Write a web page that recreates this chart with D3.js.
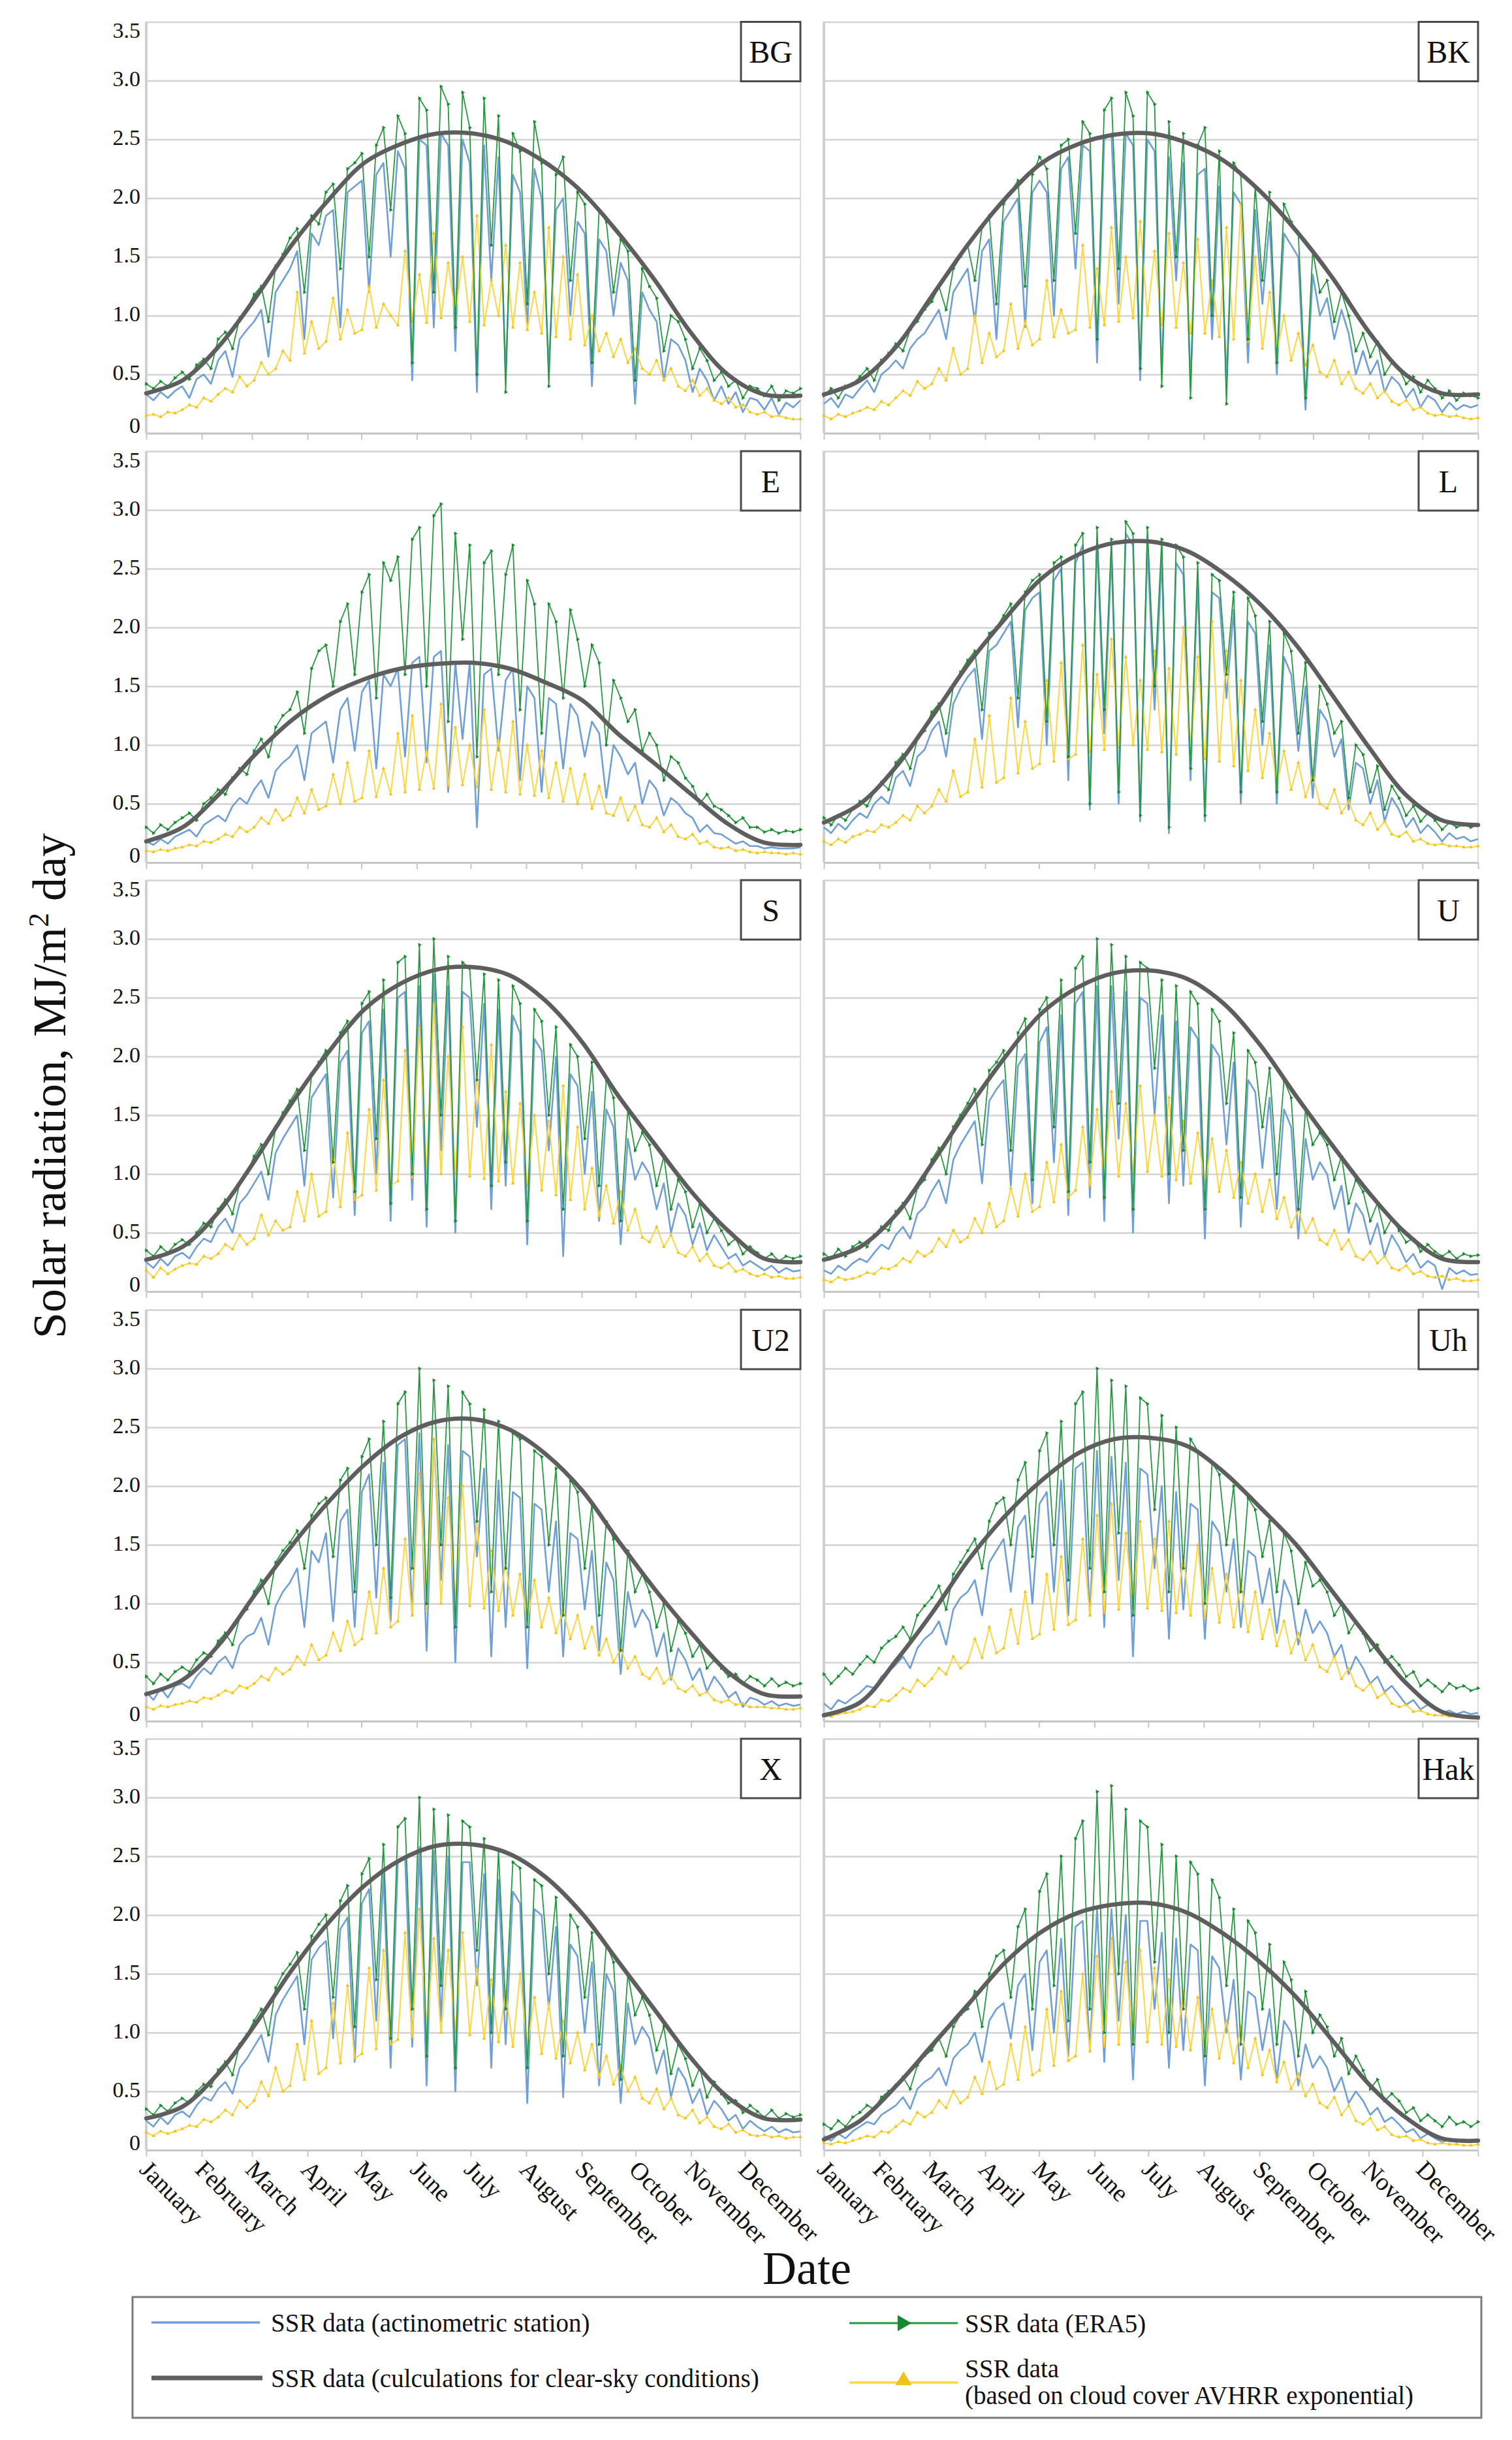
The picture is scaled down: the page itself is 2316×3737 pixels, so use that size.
<!DOCTYPE html>
<html>
<head>
<meta charset="utf-8">
<script src="https://d3js.org/d3.v7.min.js"></script>
<style>
body { margin: 0; background: #fff; }
text { font-family: "Liberation Serif", "Times New Roman", serif; fill: #111; }
</style>
</head>
<body>
<div class="chart"></div>
<script>

const months = ['January', 'February', 'March', 'April', 'May', 'June', 'July',
  'August', 'September', 'October', 'November', 'December'];
const monthStarts = [0, 31, 59, 90, 120, 151, 181, 212, 243, 273, 304, 334, 365];
const yTicks = [0, 0.5, 1.0, 1.5, 2.0, 2.5, 3.0, 3.5];
const stations = ['BG', 'BK', 'E', 'L', 'S', 'U', 'U2', 'Uh', 'X', 'Hak'];

// clear-sky curves, 19 points spread evenly over the year
const bgClear = [0.34,0.45,0.74,1.15,1.60,1.98,2.30,2.46,2.55,2.55,2.47,2.30,2.05,1.70,1.30,0.85,0.50,0.33,0.32];
const bkClear = [0.33,0.45,0.74,1.18,1.62,2.00,2.30,2.46,2.54,2.55,2.47,2.32,2.06,1.72,1.32,0.86,0.50,0.34,0.33];
const eClear = [0.18,0.30,0.58,0.92,1.21,1.42,1.56,1.65,1.69,1.70,1.65,1.53,1.38,1.09,0.84,0.58,0.33,0.17,0.15];
const lClear = [0.34,0.50,0.82,1.25,1.70,2.08,2.42,2.62,2.72,2.73,2.65,2.46,2.20,1.85,1.42,0.98,0.58,0.36,0.32];
const sClear = [0.27,0.38,0.68,1.12,1.60,2.03,2.40,2.62,2.74,2.76,2.69,2.47,2.12,1.66,1.25,0.85,0.52,0.28,0.25];
const uClear = [0.27,0.38,0.66,1.10,1.57,2.00,2.37,2.59,2.71,2.73,2.66,2.45,2.10,1.66,1.24,0.84,0.50,0.28,0.25];
const u2Clear = [0.23,0.35,0.65,1.08,1.49,1.86,2.18,2.42,2.55,2.57,2.48,2.27,1.96,1.53,1.12,0.75,0.42,0.23,0.21];
const uhClear = [0.05,0.16,0.52,0.93,1.38,1.75,2.05,2.28,2.40,2.41,2.34,2.12,1.82,1.50,1.10,0.70,0.33,0.08,0.03];
const xClear = [0.27,0.37,0.66,1.07,1.53,1.93,2.25,2.47,2.59,2.60,2.52,2.32,2.01,1.60,1.19,0.78,0.45,0.27,0.26];
const hakClear = [0.09,0.25,0.55,0.90,1.25,1.60,1.86,2.02,2.09,2.10,2.02,1.84,1.60,1.30,0.93,0.56,0.28,0.10,0.08];

// daily-ish series, 92 points over the year (about every 4 days)
// BG
const bgStation = [0.33,0.28,0.35,0.30,0.36, 0.40,0.30,0.46,0.50,0.42,
0.62,0.70,0.48,0.80,0.88, 0.95,1.05,0.65,1.20,1.30,
1.40,1.55,0.80,1.70,1.60, 1.85,1.90,0.90,2.05,2.10,
2.15,1.20,2.20,2.30,1.50, 2.40,2.25,0.45,2.50,2.45,
0.90,2.55,2.45,0.70,2.50, 2.30,0.35,2.45,1.30,2.35,
0.50,2.20,2.05,0.90,2.25, 2.00,0.55,1.90,2.00,1.00,
1.80,1.70,0.40,1.65,1.55, 1.00,1.45,1.30,0.25,1.20,
1.05,0.95,0.45,0.80,0.75, 0.62,0.35,0.55,0.45,0.28,
0.40,0.25,0.35,0.18,0.30, 0.28,0.20,0.30,0.16,0.26,
0.22,0.28];
const bgEra5 = [0.42,0.38,0.44,0.40,0.47, 0.52,0.46,0.58,0.63,0.55,
0.80,0.86,0.72,0.98,1.05, 1.18,1.25,0.95,1.42,1.52,
1.66,1.74,1.20,1.85,1.78, 2.05,2.12,1.40,2.25,2.30,
2.38,1.50,2.45,2.60,1.90, 2.70,2.55,0.60,2.85,2.75,
1.20,2.95,2.80,0.90,2.90, 2.60,0.50,2.85,1.60,2.70,
0.35,2.55,2.40,1.10,2.65, 2.30,0.40,2.20,2.35,1.30,
2.05,1.95,0.60,1.90,1.80, 1.20,1.65,1.55,0.45,1.40,
1.25,1.15,0.70,1.00,0.95, 0.80,0.55,0.72,0.62,0.45,
0.52,0.40,0.45,0.30,0.40, 0.38,0.32,0.40,0.28,0.36,
0.34,0.38];
const bgAvhrr = [0.15,0.16,0.14,0.18,0.17, 0.20,0.24,0.22,0.30,0.27,
0.33,0.38,0.35,0.48,0.40, 0.45,0.60,0.50,0.55,0.70,
0.62,1.20,0.68,0.95,0.72, 0.78,1.15,0.80,1.05,0.85,
0.88,1.25,0.90,1.10,1.00, 0.92,1.55,0.95,1.35,0.94,
1.70,0.98,1.45,1.00,1.50, 0.95,1.85,0.92,1.30,1.00,
1.60,0.90,1.45,0.88,1.20, 0.85,1.75,0.82,1.50,0.80,
1.35,0.75,1.00,0.70,0.85, 0.65,0.80,0.60,0.72,0.55,
0.50,0.62,0.45,0.55,0.40, 0.36,0.45,0.32,0.38,0.28,
0.25,0.30,0.22,0.24,0.18, 0.16,0.18,0.14,0.15,0.13,
0.12,0.12];

// BK
const bkStation = [0.25,0.30,0.22,0.33,0.30, 0.38,0.45,0.35,0.50,0.55,
0.62,0.55,0.72,0.80,0.85, 0.95,1.05,0.80,1.20,1.30,
1.40,0.95,1.55,1.65,0.80, 1.80,1.90,2.00,0.90,2.05,
2.15,2.05,1.00,2.25,2.35, 1.40,2.45,2.40,0.60,2.50,
2.55,1.10,2.55,2.45,0.45, 2.50,2.40,0.50,2.35,1.30,
2.30,0.40,2.20,2.25,0.80, 2.10,0.45,2.05,1.95,0.60,
1.90,1.10,1.80,0.50,1.70, 1.60,1.50,0.20,1.35,1.00,
1.15,0.80,1.05,0.85,0.50, 0.70,0.50,0.62,0.35,0.48,
0.42,0.30,0.38,0.22,0.32, 0.28,0.18,0.26,0.20,0.24,
0.22,0.24];
const bkEra5 = [0.32,0.38,0.30,0.40,0.42, 0.48,0.55,0.45,0.62,0.68,
0.76,0.70,0.88,0.95,1.05, 1.12,1.25,1.05,1.40,1.50,
1.60,1.30,1.75,1.85,1.10, 1.95,2.05,2.15,1.25,2.20,
2.35,2.25,1.30,2.45,2.50, 1.70,2.65,2.55,0.80,2.75,
2.85,1.40,2.90,2.70,0.55, 2.90,2.80,0.40,2.65,1.50,
2.55,0.30,2.45,2.60,1.00, 2.40,0.25,2.30,2.20,0.80,
2.10,1.30,2.05,0.60,1.95, 1.80,1.70,0.30,1.55,1.20,
1.30,0.95,1.20,1.00,0.70, 0.85,0.65,0.78,0.50,0.60,
0.55,0.42,0.48,0.35,0.45, 0.38,0.30,0.36,0.28,0.34,
0.32,0.30];
const bkAvhrr = [0.15,0.12,0.16,0.14,0.17, 0.19,0.22,0.20,0.27,0.24,
0.30,0.36,0.32,0.44,0.38, 0.42,0.55,0.45,0.72,0.50,
0.55,1.00,0.60,0.85,0.65, 0.70,1.10,0.72,0.95,0.75,
0.80,1.30,0.82,1.05,0.85, 0.88,1.60,0.90,1.40,0.92,
1.75,0.95,1.50,0.98,1.80, 1.00,1.55,0.92,1.70,0.90,
1.45,0.85,1.65,0.85,1.30, 0.82,1.75,0.80,1.95,0.78,
1.50,0.72,1.20,0.68,1.00, 0.62,0.85,0.58,0.75,0.52,
0.48,0.62,0.42,0.52,0.38, 0.34,0.42,0.30,0.36,0.27,
0.24,0.28,0.20,0.22,0.17, 0.15,0.16,0.14,0.15,0.13,
0.12,0.13];

// E
const eStation = [0.18,0.15,0.20,0.16,0.22, 0.25,0.28,0.22,0.32,0.36,
0.40,0.35,0.48,0.55,0.50, 0.62,0.70,0.55,0.78,0.85,
0.90,1.00,0.70,1.10,1.15, 1.20,0.85,1.30,1.40,0.95,
1.45,1.55,0.80,1.60,1.50, 1.65,0.90,1.70,1.75,0.85,
1.75,1.80,0.60,1.70,1.05, 1.70,0.30,1.60,1.65,0.95,
1.55,1.65,0.70,1.50,1.40, 0.60,1.40,1.35,0.80,1.35,
1.25,0.90,1.20,1.10,0.55, 1.00,0.90,0.75,0.85,0.50,
0.70,0.62,0.40,0.55,0.50, 0.42,0.38,0.26,0.32,0.25,
0.24,0.20,0.16,0.18,0.14, 0.14,0.12,0.13,0.12,0.12,
0.12,0.13];
const eEra5 = [0.30,0.25,0.32,0.28,0.34, 0.38,0.42,0.36,0.50,0.55,
0.62,0.58,0.72,0.80,0.75, 0.95,1.05,0.90,1.15,1.25,
1.30,1.45,1.10,1.65,1.80, 1.85,1.50,2.05,2.20,1.60,
2.30,2.45,1.40,2.55,2.40, 2.60,1.60,2.75,2.85,1.50,
2.95,3.05,1.20,2.80,1.90, 2.70,0.90,2.55,2.65,1.60,
2.45,2.70,1.30,2.40,2.20, 1.10,2.20,2.05,1.40,2.15,
1.90,1.50,1.85,1.70,1.00, 1.55,1.40,1.20,1.30,0.95,
1.10,1.00,0.70,0.90,0.85, 0.72,0.65,0.50,0.58,0.48,
0.45,0.40,0.34,0.38,0.30, 0.30,0.26,0.28,0.25,0.27,
0.26,0.28];
const eAvhrr = [0.10,0.09,0.11,0.10,0.12, 0.13,0.15,0.14,0.18,0.17,
0.20,0.24,0.22,0.30,0.26, 0.30,0.38,0.33,0.45,0.36,
0.40,0.55,0.42,0.62,0.45, 0.48,0.75,0.50,0.85,0.52,
0.55,0.95,0.56,0.80,0.58, 1.10,0.60,1.25,0.62,0.95,
0.63,1.35,0.65,1.15,0.66, 1.00,0.64,1.30,0.62,1.05,
0.60,1.20,0.58,1.00,0.57, 0.95,0.55,0.85,0.52,0.80,
0.50,0.75,0.46,0.65,0.42, 0.40,0.55,0.36,0.48,0.32,
0.30,0.38,0.26,0.32,0.22, 0.20,0.24,0.16,0.18,0.13,
0.12,0.13,0.10,0.11,0.09, 0.08,0.09,0.08,0.08,0.07,
0.08,0.07];

// L
const lStation = [0.30,0.25,0.33,0.28,0.36, 0.42,0.38,0.50,0.56,0.50,
0.72,0.78,0.65,0.90,0.96, 1.12,1.20,0.90,1.35,1.48,
1.58,1.65,1.05,1.80,1.85, 1.95,2.05,1.15,2.15,2.25,
2.30,1.00,2.40,2.50,0.70, 2.55,2.70,0.45,2.75,1.10,
2.65,0.50,2.80,2.70,0.35, 2.70,1.30,2.60,0.25,2.55,
2.45,0.70,2.40,0.35,2.30, 2.25,1.40,2.15,0.50,2.05,
1.95,1.00,1.85,0.50,1.75, 1.60,0.95,1.50,0.55,1.30,
1.20,0.90,1.05,0.45,0.85, 0.80,0.50,0.70,0.35,0.55,
0.45,0.30,0.38,0.25,0.32, 0.26,0.18,0.25,0.20,0.22,
0.18,0.20];
const lEra5 = [0.38,0.32,0.40,0.36,0.45, 0.52,0.48,0.60,0.68,0.62,
0.85,0.92,0.80,1.05,1.12, 1.28,1.35,1.10,1.50,1.62,
1.72,1.80,1.30,1.95,2.00, 2.10,2.20,1.40,2.30,2.40,
2.45,1.20,2.55,2.60,0.90, 2.70,2.80,0.50,2.85,1.30,
2.75,0.60,2.90,2.80,0.40, 2.85,1.50,2.75,0.30,2.70,
2.60,0.80,2.55,0.40,2.45, 2.40,1.60,2.30,0.60,2.25,
2.10,1.20,2.05,0.60,1.95, 1.80,1.10,1.70,0.70,1.50,
1.35,1.10,1.20,0.55,1.00, 0.92,0.60,0.82,0.45,0.65,
0.55,0.40,0.48,0.35,0.42, 0.36,0.28,0.34,0.30,0.32,
0.30,0.32];
const lAvhrr = [0.18,0.15,0.20,0.17,0.22, 0.24,0.27,0.26,0.32,0.30,
0.34,0.40,0.36,0.48,0.42, 0.48,0.62,0.52,0.78,0.56,
0.60,1.05,0.64,1.25,0.68, 0.72,1.40,0.76,1.20,0.80,
0.84,1.55,0.86,1.70,0.88, 0.92,1.85,0.94,1.60,0.96,
1.90,0.98,1.75,1.00,1.55, 0.96,1.80,0.94,1.65,0.92,
2.00,0.90,1.75,0.88,2.05, 0.86,1.80,0.82,1.55,0.78,
1.30,0.72,1.10,0.66,0.95, 0.62,0.85,0.56,0.75,0.50,
0.46,0.62,0.42,0.52,0.36, 0.32,0.42,0.28,0.35,0.24,
0.22,0.26,0.18,0.20,0.16, 0.15,0.16,0.14,0.14,0.13,
0.13,0.14];

// S
const sStation = [0.25,0.20,0.28,0.22,0.30, 0.33,0.28,0.38,0.45,0.42,
0.55,0.62,0.50,0.75,0.82, 0.92,1.02,0.78,1.18,1.30,
1.40,1.50,0.90,1.65,1.75, 1.85,0.80,1.95,2.05,0.65,
2.20,2.30,1.00,2.40,0.60, 2.50,2.55,0.78,2.60,0.55,
2.70,1.20,2.60,0.50,2.55, 2.50,1.40,2.45,0.70,2.40,
0.90,2.35,2.20,0.40,2.15, 2.05,1.20,2.00,0.30,1.85,
1.75,1.00,1.70,0.60,1.55, 1.40,0.40,1.30,0.95,1.10,
1.00,0.70,0.92,0.50,0.75, 0.65,0.40,0.58,0.35,0.48,
0.38,0.28,0.32,0.22,0.26, 0.22,0.18,0.22,0.16,0.20,
0.17,0.18];
const sEra5 = [0.35,0.30,0.38,0.33,0.40, 0.44,0.40,0.50,0.58,0.55,
0.70,0.78,0.66,0.92,1.00, 1.15,1.25,1.00,1.40,1.52,
1.62,1.72,1.20,1.85,1.95, 2.05,1.10,2.20,2.30,0.85,
2.45,2.55,1.30,2.65,0.75, 2.80,2.85,1.00,2.95,0.70,
3.00,1.50,2.85,0.60,2.80, 2.75,1.80,2.70,0.90,2.65,
1.10,2.60,2.45,0.60,2.40, 2.30,1.50,2.25,0.70,2.10,
2.00,1.30,1.95,0.90,1.80, 1.65,0.60,1.55,1.20,1.35,
1.25,0.90,1.15,0.70,0.95, 0.85,0.55,0.75,0.50,0.62,
0.52,0.40,0.45,0.32,0.38, 0.33,0.28,0.32,0.26,0.30,
0.28,0.30];
const sAvhrr = [0.18,0.12,0.20,0.15,0.19, 0.22,0.24,0.23,0.30,0.28,
0.32,0.40,0.36,0.48,0.40, 0.45,0.65,0.48,0.60,0.52,
0.55,0.85,0.60,1.00,0.64, 0.68,1.20,0.72,1.35,0.78,
0.82,1.55,0.86,1.80,0.90, 0.94,2.05,0.97,2.25,1.00,
2.45,1.00,2.00,1.00,2.25, 0.98,1.85,0.96,2.10,0.94,
1.70,0.92,1.60,0.90,1.50, 0.86,1.45,0.82,1.75,0.78,
1.40,0.70,1.05,0.64,0.90, 0.58,0.85,0.52,0.70,0.46,
0.42,0.55,0.38,0.48,0.33, 0.30,0.38,0.26,0.32,0.22,
0.20,0.24,0.17,0.19,0.15, 0.13,0.15,0.12,0.13,0.11,
0.11,0.12];

// U
const uStation = [0.18,0.15,0.22,0.18,0.24, 0.28,0.25,0.33,0.40,0.36,
0.48,0.55,0.45,0.66,0.72, 0.85,0.95,0.75,1.12,1.25,
1.35,1.45,0.92,1.62,1.72, 1.80,0.90,1.92,2.02,0.75,
2.12,2.25,1.10,2.35,0.65, 2.45,2.55,0.80,2.60,0.60,
2.60,1.30,2.55,0.50,2.50, 2.45,1.50,2.35,0.75,2.30,
0.90,2.25,2.15,0.45,2.10, 2.00,1.25,1.95,0.55,1.80,
1.70,1.05,1.65,0.70,1.55, 1.40,0.45,1.30,0.95,1.10,
1.00,0.70,0.90,0.50,0.75, 0.65,0.40,0.58,0.30,0.48,
0.38,0.25,0.32,0.20,0.26, 0.22,0.02,0.20,0.15,0.18,
0.14,0.15];
const uEra5 = [0.32,0.28,0.36,0.30,0.38, 0.42,0.38,0.48,0.55,0.52,
0.68,0.75,0.62,0.88,0.95, 1.12,1.22,1.00,1.40,1.50,
1.60,1.72,1.25,1.88,1.95, 2.05,1.20,2.20,2.32,0.95,
2.40,2.50,1.40,2.65,0.85, 2.75,2.85,1.10,3.00,0.80,
2.95,1.60,2.85,0.70,2.80, 2.75,1.90,2.65,1.00,2.60,
1.20,2.55,2.45,0.70,2.40, 2.30,1.60,2.20,0.80,2.05,
1.95,1.40,1.90,1.00,1.80, 1.65,0.70,1.55,1.25,1.35,
1.25,0.95,1.15,0.75,0.95, 0.85,0.60,0.75,0.50,0.62,
0.52,0.42,0.45,0.34,0.40, 0.34,0.30,0.34,0.28,0.32,
0.30,0.31];
const uAvhrr = [0.10,0.08,0.12,0.10,0.11, 0.13,0.16,0.15,0.20,0.19,
0.22,0.28,0.25,0.34,0.30, 0.34,0.45,0.38,0.52,0.42,
0.46,0.62,0.50,0.75,0.55, 0.60,0.88,0.64,1.00,0.68,
0.72,1.10,0.76,1.25,0.80, 0.86,1.40,0.90,1.55,0.95,
1.70,0.98,1.60,1.00,1.75, 1.02,1.50,0.98,1.65,0.95,
1.45,0.92,1.35,0.90,1.30, 0.85,1.20,0.80,1.10,0.75,
1.00,0.68,0.95,0.62,0.80, 0.55,0.70,0.50,0.62,0.44,
0.40,0.52,0.36,0.44,0.30, 0.27,0.34,0.24,0.30,0.20,
0.18,0.22,0.15,0.17,0.13, 0.12,0.13,0.10,0.11,0.09,
0.09,0.10];

// U2
const u2Station = [0.25,0.18,0.28,0.20,0.30, 0.32,0.28,0.38,0.45,0.40,
0.50,0.55,0.45,0.65,0.72, 0.75,0.88,0.65,0.98,1.10,
1.18,1.30,0.80,1.45,1.35, 1.60,0.85,1.70,1.80,0.80,
1.95,2.10,1.05,2.20,0.85, 2.35,2.40,0.90,2.45,0.60,
2.40,1.20,2.35,0.50,2.30, 2.25,1.40,2.15,0.55,2.05,
0.80,1.95,1.90,0.45,1.85, 1.80,1.10,1.70,0.55,1.60,
1.55,0.95,1.45,0.60,1.35, 1.20,0.40,1.10,0.80,0.95,
0.85,0.55,0.75,0.35,0.62, 0.52,0.35,0.45,0.25,0.38,
0.30,0.20,0.25,0.12,0.20, 0.18,0.14,0.17,0.13,0.15,
0.13,0.14];
const u2Era5 = [0.38,0.32,0.40,0.35,0.42, 0.46,0.42,0.52,0.58,0.55,
0.68,0.75,0.65,0.88,0.95, 1.10,1.20,1.00,1.35,1.45,
1.52,1.62,1.30,1.75,1.85, 1.90,1.40,2.05,2.15,1.10,
2.25,2.40,1.50,2.55,1.05, 2.70,2.80,1.30,3.00,1.00,
2.90,1.50,2.85,0.80,2.80, 2.70,1.70,2.65,1.10,2.55,
1.30,2.45,2.40,0.80,2.30, 2.25,1.50,2.15,0.90,2.05,
1.95,1.30,1.85,0.90,1.70, 1.55,0.60,1.45,1.10,1.25,
1.10,0.80,1.00,0.60,0.85, 0.75,0.55,0.65,0.45,0.52,
0.45,0.38,0.40,0.32,0.38, 0.35,0.30,0.36,0.30,0.33,
0.30,0.32];
const u2Avhrr = [0.12,0.10,0.13,0.12,0.14, 0.15,0.17,0.16,0.20,0.19,
0.22,0.26,0.24,0.30,0.28, 0.32,0.38,0.35,0.45,0.40,
0.44,0.55,0.48,0.65,0.52, 0.56,0.75,0.60,0.85,0.65,
0.70,1.10,0.75,1.30,0.80, 0.85,1.55,0.90,2.10,0.95,
2.40,1.00,1.90,1.00,2.00, 0.98,1.70,0.96,1.45,0.94,
1.35,0.90,1.25,0.85,1.20, 0.80,1.05,0.75,0.95,0.70,
0.90,0.62,0.80,0.56,0.70, 0.50,0.62,0.45,0.55,0.40,
0.36,0.45,0.32,0.38,0.28, 0.25,0.30,0.22,0.25,0.18,
0.16,0.18,0.14,0.15,0.12, 0.12,0.12,0.11,0.11,0.10,
0.10,0.11];

// Uh
const uhStation = [0.15,0.10,0.18,0.15,0.20, 0.24,0.30,0.28,0.38,0.42,
0.48,0.55,0.45,0.62,0.70, 0.75,0.85,0.65,0.95,1.05,
1.10,1.20,0.90,1.35,1.45, 1.55,1.10,1.65,1.75,1.00,
1.85,1.95,1.10,2.05,0.90, 2.15,2.20,0.90,2.30,0.80,
2.25,1.20,2.20,0.55,2.15, 2.10,1.30,2.00,0.70,1.95,
0.95,1.85,1.80,0.70,1.70, 1.60,1.10,1.55,0.80,1.45,
1.40,1.00,1.30,0.75,1.20, 1.05,0.65,0.95,0.75,0.85,
0.75,0.55,0.65,0.40,0.55, 0.45,0.32,0.38,0.25,0.30,
0.22,0.14,0.18,0.10,0.14, 0.10,0.07,0.09,0.06,0.08,
0.06,0.07];
const uhEra5 = [0.40,0.32,0.38,0.45,0.40, 0.48,0.55,0.50,0.62,0.68,
0.72,0.80,0.70,0.90,0.98, 1.05,1.15,0.95,1.25,1.35,
1.45,1.55,1.30,1.70,1.85, 1.90,1.50,2.05,2.20,1.40,
2.30,2.45,1.50,2.55,1.20, 2.70,2.80,1.30,3.00,1.10,
2.90,1.60,2.85,0.90,2.75, 2.70,1.80,2.60,1.10,2.50,
1.30,2.40,2.30,1.00,2.20, 2.10,1.50,2.00,1.10,1.90,
1.80,1.40,1.70,1.10,1.60, 1.45,1.00,1.35,1.15,1.20,
1.10,0.90,1.00,0.75,0.85, 0.75,0.60,0.65,0.50,0.55,
0.48,0.38,0.42,0.30,0.35, 0.30,0.25,0.32,0.28,0.30,
0.26,0.28];
const uhAvhrr = [0.05,0.04,0.06,0.07,0.08, 0.10,0.13,0.12,0.18,0.17,
0.22,0.28,0.25,0.35,0.30, 0.36,0.45,0.40,0.55,0.45,
0.50,0.70,0.54,0.80,0.58, 0.62,0.95,0.66,1.10,0.70,
0.74,1.25,0.78,1.40,0.82, 0.86,1.55,0.90,1.75,0.92,
1.85,0.95,1.60,0.95,1.70, 0.96,1.55,0.94,1.70,0.92,
1.40,0.90,1.50,0.88,1.30, 0.84,1.25,0.80,1.20,0.76,
1.10,0.70,0.95,0.64,0.85, 0.58,0.75,0.52,0.65,0.46,
0.42,0.55,0.36,0.45,0.30, 0.26,0.32,0.20,0.24,0.15,
0.12,0.14,0.08,0.09,0.06, 0.05,0.05,0.04,0.04,0.03,
0.03,0.04];

// X
const xStation = [0.25,0.20,0.28,0.22,0.30, 0.33,0.28,0.38,0.45,0.42,
0.52,0.58,0.48,0.70,0.78, 0.88,0.98,0.75,1.15,1.28,
1.38,1.48,0.90,1.62,1.72, 1.78,0.95,1.88,1.98,0.75,
2.10,2.22,1.10,2.35,0.70, 2.45,2.50,0.88,2.58,0.55,
2.55,1.10,2.50,0.50,2.45, 2.45,1.40,2.35,0.70,2.30,
0.90,2.20,2.10,0.40,2.05, 2.00,1.20,1.90,0.45,1.75,
1.65,1.00,1.60,0.55,1.50, 1.35,0.40,1.25,0.90,1.05,
0.95,0.65,0.85,0.45,0.70, 0.60,0.40,0.52,0.30,0.42,
0.35,0.25,0.30,0.18,0.25, 0.20,0.16,0.20,0.15,0.18,
0.15,0.16];
const xEra5 = [0.35,0.30,0.38,0.33,0.40, 0.44,0.40,0.50,0.56,0.54,
0.68,0.75,0.64,0.90,0.98, 1.10,1.20,0.98,1.38,1.50,
1.58,1.68,1.20,1.82,1.92, 2.00,1.30,2.12,2.25,1.05,
2.35,2.48,1.45,2.60,0.95, 2.75,2.82,1.20,3.00,0.80,
2.90,1.40,2.85,0.70,2.80, 2.75,1.70,2.65,1.00,2.55,
1.20,2.45,2.40,0.70,2.30, 2.25,1.50,2.15,0.80,2.00,
1.90,1.30,1.85,0.90,1.75, 1.60,0.60,1.50,1.15,1.30,
1.15,0.85,1.05,0.65,0.90, 0.78,0.55,0.70,0.45,0.58,
0.48,0.40,0.42,0.32,0.38, 0.33,0.28,0.34,0.27,0.31,
0.28,0.30];
const xAvhrr = [0.15,0.12,0.16,0.14,0.16, 0.18,0.21,0.20,0.26,0.24,
0.28,0.34,0.30,0.42,0.36, 0.42,0.58,0.46,0.70,0.50,
0.55,0.90,0.60,1.10,0.65, 0.70,1.25,0.74,1.40,0.78,
0.82,1.55,0.86,1.70,0.90, 0.94,1.85,0.96,2.05,0.98,
1.80,1.00,1.70,1.00,1.85, 0.98,1.55,0.95,1.45,0.92,
1.35,0.88,1.50,0.86,1.30, 0.82,1.25,0.78,1.10,0.74,
1.00,0.68,0.90,0.62,0.80, 0.56,0.72,0.50,0.62,0.44,
0.40,0.52,0.35,0.44,0.30, 0.27,0.34,0.23,0.28,0.20,
0.18,0.22,0.15,0.17,0.13, 0.12,0.13,0.11,0.12,0.10,
0.11,0.11];

// Hak
const hakStation = [0.12,0.08,0.14,0.10,0.16, 0.20,0.24,0.22,0.30,0.34,
0.38,0.45,0.35,0.52,0.58, 0.62,0.70,0.55,0.78,0.85,
0.90,1.00,0.75,1.10,1.20, 1.25,0.95,1.40,1.50,0.85,
1.60,1.70,1.00,1.80,0.80, 1.90,1.95,0.85,2.05,0.75,
2.05,1.10,2.00,0.60,1.95, 1.95,1.20,1.85,0.70,1.80,
0.85,1.75,1.70,0.55,1.65, 1.55,1.00,1.45,0.60,1.35,
1.30,0.85,1.20,0.60,1.10, 1.00,0.55,0.90,0.70,0.80,
0.70,0.50,0.62,0.40,0.50, 0.42,0.30,0.36,0.24,0.28,
0.22,0.15,0.18,0.10,0.14, 0.10,0.07,0.09,0.07,0.08,
0.08,0.08];
const hakEra5 = [0.22,0.18,0.25,0.20,0.28, 0.32,0.38,0.35,0.45,0.50,
0.55,0.62,0.52,0.72,0.80, 0.85,0.95,0.80,1.05,1.15,
1.20,1.35,1.05,1.50,1.65, 1.70,1.30,1.90,2.05,1.20,
2.20,2.35,1.40,2.50,1.10, 2.65,2.80,1.20,3.05,1.00,
3.10,1.50,2.90,0.90,2.80, 2.75,1.60,2.60,1.00,2.50,
1.20,2.45,2.35,0.80,2.30, 2.15,1.40,2.05,0.90,1.95,
1.85,1.20,1.75,0.90,1.60, 1.45,0.80,1.35,1.00,1.15,
1.05,0.80,0.95,0.65,0.80, 0.68,0.52,0.60,0.42,0.48,
0.42,0.32,0.36,0.25,0.30, 0.25,0.20,0.28,0.22,0.24,
0.20,0.24];
const hakAvhrr = [0.06,0.05,0.07,0.06,0.08, 0.10,0.12,0.11,0.16,0.15,
0.20,0.25,0.22,0.32,0.28, 0.32,0.42,0.36,0.50,0.40,
0.45,0.62,0.48,0.75,0.52, 0.56,0.90,0.60,1.05,0.64,
0.68,1.20,0.72,1.35,0.76, 0.80,1.50,0.84,1.65,0.88,
1.80,0.90,1.60,0.92,1.70, 0.92,1.55,0.90,1.45,0.88,
1.35,0.85,1.30,0.82,1.20, 0.78,1.10,0.74,1.05,0.70,
0.95,0.64,0.85,0.58,0.75, 0.52,0.65,0.46,0.56,0.40,
0.36,0.45,0.30,0.38,0.25, 0.22,0.27,0.17,0.20,0.13,
0.11,0.12,0.08,0.09,0.06, 0.05,0.06,0.05,0.05,0.04,
0.04,0.05];

const clearSets = [bgClear, bkClear, eClear, lClear, sClear, uClear, u2Clear, uhClear, xClear, hakClear];
const stationSets = [bgStation, bkStation, eStation, lStation, sStation, uStation, u2Station, uhStation, xStation, hakStation];
const era5Sets = [bgEra5, bkEra5, eEra5, lEra5, sEra5, uEra5, u2Era5, uhEra5, xEra5, hakEra5];
const avhrrSets = [bgAvhrr, bkAvhrr, eAvhrr, lAvhrr, sAvhrr, uAvhrr, u2Avhrr, uhAvhrr, xAvhrr, hakAvhrr];

const colours = {station: '#6f9fd8', clear: '#5e5e5e', era5: '#25993d', era5Mark: '#16882e', avhrr: '#ffd640', avhrrMark: '#f2c21c'};

// layout
const colX = [224, 1262];
const plotW = 1002;
const rowY = [33.5, 691, 1348, 2006, 2663];
const plotH = 630;

const svg = d3.select('.chart')
  .append('svg')
    .attr('width', 2316)
    .attr('height', 3737);

// a series with n points covers the whole year
const dayOf = (i, n) => i * 365 / (n - 1);

stations.forEach((name, k) => {
  const col = k % 2;
  const row = Math.floor(k / 2);

  const x = d3.scaleLinear().domain([0, 365]).range([0, plotW]);
  const y = d3.scaleLinear().domain([0, 3.5]).range([plotH, 0]);

  const g = svg.append('g')
    .attr('transform', `translate(${colX[col]},${rowY[row]})`);

  // gridlines and labels
  g.append('g')
    .attr('class', 'y axis')
    .call(d3.axisLeft(y)
      .tickValues(yTicks)
      .tickSize(-plotW)
      .tickFormat(d => col === 0 ? (d === 0 ? '0' : d.toFixed(1)) : ''))
    .call(a => a.select('.domain').remove())
    .call(a => a.selectAll('line').attr('stroke', '#d3d3d3').attr('stroke-width', 2.5))
    .call(a => a.selectAll('text')
      .attr('x', -9)
      .attr('dy', d => d === 3.5 ? '0.72em' : (d === 0 ? '-0.02em' : '0.24em'))
      .style('font-size', '34px'));

  // x axis with month ticks
  g.append('g')
    .attr('class', 'x axis')
    .attr('transform', `translate(0,${plotH})`)
    .call(d3.axisBottom(x).tickValues(monthStarts).tickSize(10).tickSizeOuter(0).tickFormat(''))
    .call(a => a.select('.domain').attr('stroke', '#c6c6c6').attr('stroke-width', 3))
    .call(a => a.selectAll('line').attr('stroke', '#c6c6c6').attr('stroke-width', 2));

  g.append('line')
    .attr('x1', 0).attr('x2', 0).attr('y1', 0).attr('y2', plotH)
    .attr('stroke', '#cfcfcf').attr('stroke-width', 4);
  g.append('line')
    .attr('x1', plotW).attr('x2', plotW).attr('y1', 0).attr('y2', plotH)
    .attr('stroke', '#dcdcdc').attr('stroke-width', 2);

  const line = n => d3.line()
    .x((d, i) => x(dayOf(i, n)))
    .y(d => y(d));

  const st = stationSets[k], er = era5Sets[k], av = avhrrSets[k], cl = clearSets[k];

  g.append('path')
    .datum(st)
    .attr('fill', 'none')
    .attr('stroke', colours.station)
    .attr('stroke-width', 2.6)
    .attr('stroke-linejoin', 'round')
    .attr('d', line(st.length));

  g.append('path')
    .datum(av)
    .attr('fill', 'none')
    .attr('stroke', colours.avhrr)
    .attr('stroke-width', 2)
    .attr('d', line(av.length));

  g.selectAll('.m-avhrr')
    .data(av)
    .join('path')
    .attr('class', 'm-avhrr')
    .attr('transform', (d, i) => `translate(${x(dayOf(i, av.length))},${y(d)})`)
    .attr('d', d3.symbol(d3.symbolTriangle, 14))
    .attr('fill', colours.avhrrMark);

  g.append('path')
    .datum(er)
    .attr('fill', 'none')
    .attr('stroke', colours.era5)
    .attr('stroke-width', 1.8)
    .attr('d', line(er.length));

  g.selectAll('.m-era5')
    .data(er)
    .join('path')
    .attr('class', 'm-era5')
    .attr('transform', (d, i) => `translate(${x(dayOf(i, er.length))},${y(d)}) rotate(90)`)
    .attr('d', d3.symbol(d3.symbolTriangle, 16))
    .attr('fill', colours.era5Mark);

  g.append('path')
    .datum(cl)
    .attr('fill', 'none')
    .attr('stroke', colours.clear)
    .attr('stroke-width', 6.5)
    .attr('stroke-linecap', 'round')
    .attr('d', line(cl.length).curve(d3.curveCatmullRom.alpha(0.5)));

  // station name box
  g.append('rect')
    .attr('x', plotW - 91).attr('y', 0)
    .attr('width', 91).attr('height', 91)
    .attr('fill', '#fff')
    .attr('stroke', '#4a4a4a')
    .attr('stroke-width', 3);
  g.append('text')
    .attr('x', plotW - 45.5).attr('y', 46)
    .attr('dy', '0.35em')
    .attr('text-anchor', 'middle')
    .style('font-size', '48px')
    .text(name);

  // month labels under the bottom row
  if (row === 4) {
    months.forEach((m, i) => {
      const tx = x(monthStarts[i]) - 12;
      const ty = plotH + 32;
      g.append('text')
        .attr('transform', `translate(${tx},${ty}) rotate(45)`)
        .style('font-size', '38px')
        .text(m);
    });
  }
});

// axis titles
svg.append('text')
  .attr('transform', 'translate(100,1663) rotate(-90)')
  .attr('text-anchor', 'middle')
  .style('font-size', '72px')
  .html('Solar radiation, MJ/m<tspan dy="-26" style="font-size:44px">2</tspan><tspan dy="26"> day</tspan>');

svg.append('text')
  .attr('x', 1236).attr('y', 3498)
  .attr('text-anchor', 'middle')
  .style('font-size', '72px')
  .text('Date');

// legend
const legend = svg.append('g');
legend.append('rect')
  .attr('x', 203).attr('y', 3518)
  .attr('width', 2066).attr('height', 185)
  .attr('fill', 'none')
  .attr('stroke', '#7a7a7a')
  .attr('stroke-width', 3);

const legendText = (x, y, t) => legend.append('text')
  .attr('x', x).attr('y', y).attr('dy', '0.35em')
  .style('font-size', '39px')
  .text(t);

legend.append('line').attr('x1', 232).attr('x2', 398).attr('y1', 3557).attr('y2', 3557)
  .attr('stroke', colours.station).attr('stroke-width', 3.5);
legendText(415, 3557, 'SSR data (actinometric station)');

legend.append('line').attr('x1', 232).attr('x2', 402).attr('y1', 3642).attr('y2', 3642)
  .attr('stroke', colours.clear).attr('stroke-width', 7);
legendText(415, 3642, 'SSR data (culculations for clear-sky conditions)');

legend.append('line').attr('x1', 1301).attr('x2', 1467).attr('y1', 3558).attr('y2', 3558)
  .attr('stroke', colours.era5).attr('stroke-width', 3);
legend.append('path')
  .attr('transform', 'translate(1382,3558) rotate(90)')
  .attr('d', d3.symbol(d3.symbolTriangle, 260))
  .attr('fill', colours.era5Mark);
legendText(1478, 3558, 'SSR data (ERA5)');

legend.append('line').attr('x1', 1301).attr('x2', 1467).attr('y1', 3649).attr('y2', 3649)
  .attr('stroke', colours.avhrr).attr('stroke-width', 3.5);
legend.append('path')
  .attr('transform', 'translate(1384,3646)')
  .attr('d', d3.symbol(d3.symbolTriangle, 260))
  .attr('fill', colours.avhrrMark);
legendText(1478, 3627, 'SSR data');
legendText(1478, 3668, '(based on cloud cover AVHRR exponential)');

</script>
</body>
</html>
